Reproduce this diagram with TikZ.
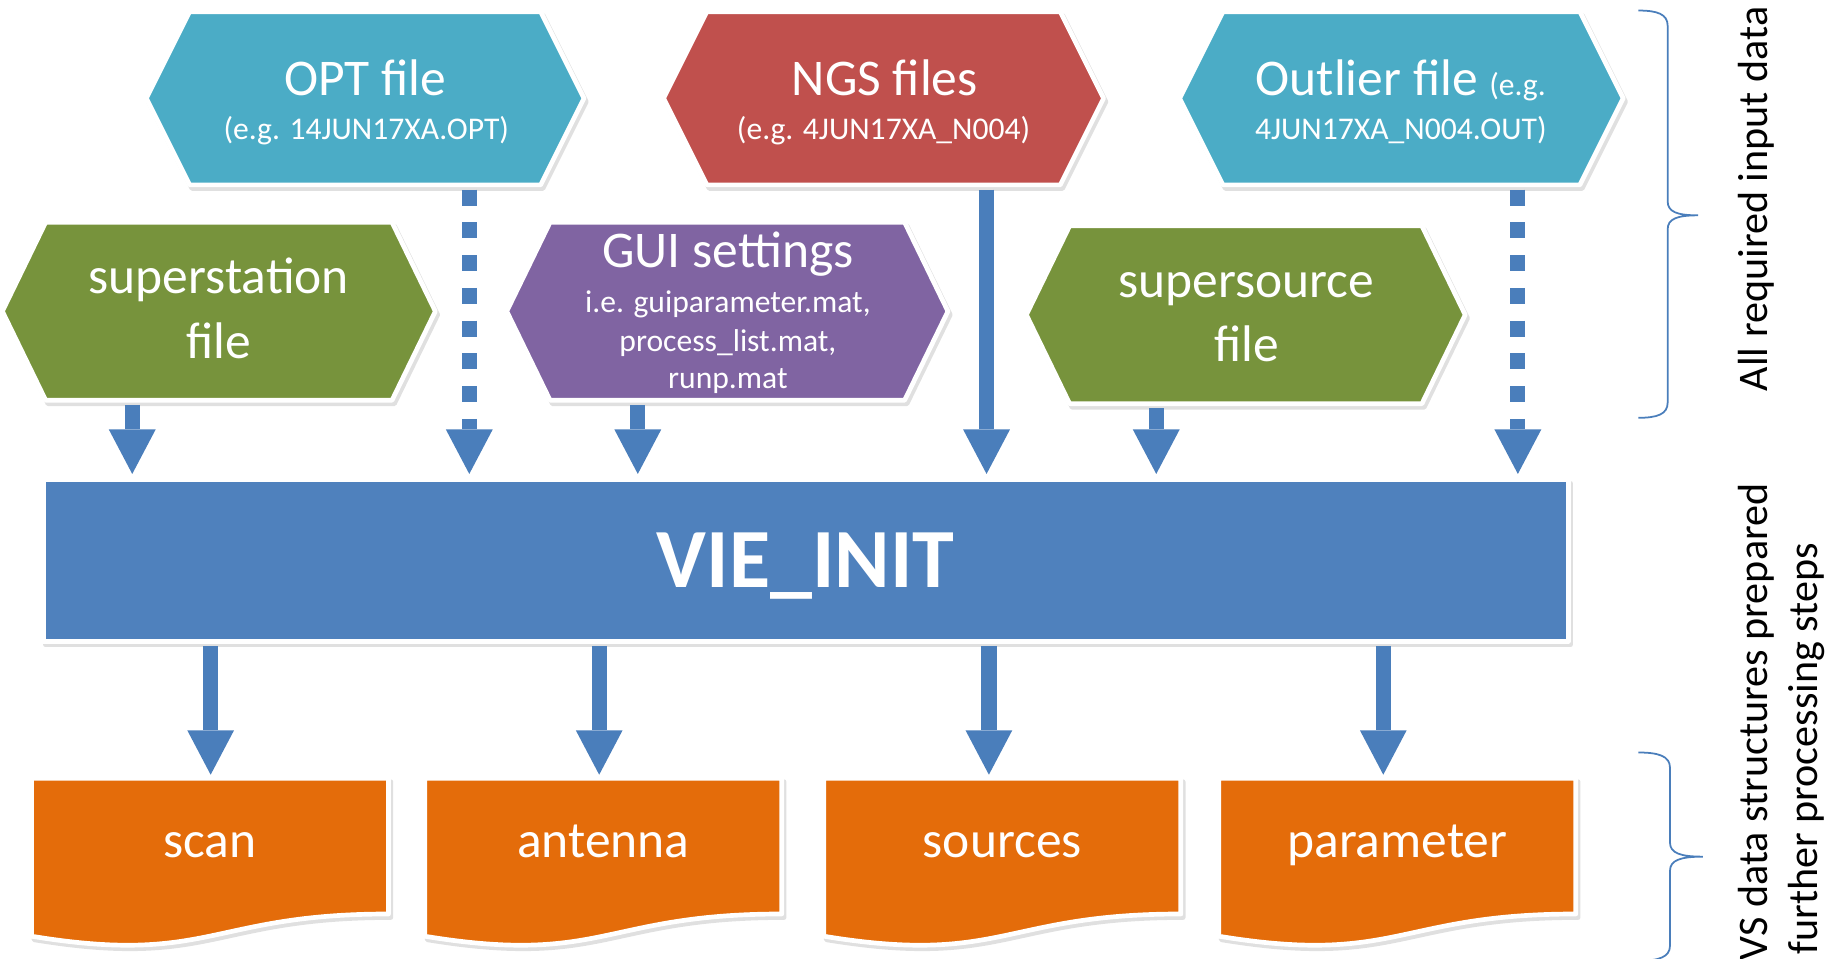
\documentclass[tikz,border=0pt]{standalone}
\usepackage{fontspec}
\setmainfont{Carlito}
\usetikzlibrary{arrows.meta,calc}
\pgfdeclarelayer{bg}
\pgfsetlayers{bg,main}
\definecolor{cyanf}{HTML}{4BACC6}
\definecolor{redf}{HTML}{C0504D}
\definecolor{greenf}{HTML}{77933C}
\definecolor{purplef}{HTML}{8064A2}
\definecolor{bluef}{HTML}{4F81BD}
\definecolor{arrc}{HTML}{4A7EBB}
\definecolor{orangef}{HTML}{E46C0A}
\tikzset{
  shadowst/.style={fill=black!12, draw=black!12, line width=4pt, line join=round, transform canvas={shift={(2pt,-3pt)}}},
  shapest/.style={draw=white, line width=4pt, line join=round},
  hexn/.style={rectangle, inner sep=0pt, outer sep=0pt},
  ttl/.style={anchor=base, inner sep=0pt, text=white, font=\fontsize{44}{53}\selectfont},
  sub/.style={anchor=base, inner sep=0pt, text=white, font=\fontsize{27}{32}\selectfont},
  vie/.style={rectangle, inner sep=0pt, outer sep=0pt, minimum width=1303pt, minimum height=138pt, text=white, font=\bfseries\fontsize{72}{86}\selectfont, text height=46pt, text depth=0pt},
  doc/.style={rectangle, inner sep=0pt, outer sep=0pt, minimum width=305pt, minimum height=116pt, text=white, font=\fontsize{44}{53}\selectfont, text height=20pt, text depth=0pt},
  side/.style={rotate=90, inner sep=0pt, text=black, font=\fontsize{36}{43}\selectfont},
  brace/.style={draw=arrc, line width=1.5pt},
  arr/.style={draw=arrc, line width=13pt, -{Triangle[length=38pt,width=40pt,line width=0pt]}},
  dasharr/.style={arr, dash pattern=on 13.7pt off 14.3pt},
}
\newcommand\hexshape[3]{%
  \filldraw[shadowst] (#1.north west) -- (#1.north east) -- ([xshift=#2]#1.east) -- (#1.south east) -- (#1.south west) -- ([xshift=-#2]#1.west) -- cycle;
  \filldraw[shapest, fill=#3] (#1.north west) -- (#1.north east) -- ([xshift=#2]#1.east) -- (#1.south east) -- (#1.south west) -- ([xshift=-#2]#1.west) -- cycle;}
\newcommand\docshape[2]{%
  \filldraw[shadowst] (#1.north west) -- (#1.north east) -- (#1.south east) .. controls (#1.south) and ([yshift=-44pt]#1.south) .. ([yshift=-19pt]#1.south west) -- cycle;
  \filldraw[shapest, fill=#2] (#1.north west) -- (#1.north east) -- (#1.south east) .. controls (#1.south) and ([yshift=-44pt]#1.south) .. ([yshift=-19pt]#1.south west) -- cycle;}
\newcommand\boxshape[2]{%
  \filldraw[shadowst] (#1.north west) rectangle (#1.south east);
  \filldraw[shapest, fill=#2] (#1.north west) rectangle (#1.south east);}
\begin{document}
\begin{tikzpicture}[x=1pt,y=-1pt]
\useasboundingbox (0,0) rectangle (1568,819);
% shape holders
\node[hexn, minimum width=300pt, minimum height=148pt] (opt) at (312,84) {};
\node[hexn, minimum width=302pt, minimum height=148pt] (ngs) at (755,84) {};
\node[hexn, minimum width=305pt, minimum height=148pt] (outl) at (1197.5,84) {};
\node[hexn, minimum width=296pt, minimum height=152pt] (sst) at (187,266) {};
\node[hexn, minimum width=303pt, minimum height=152pt] (gui) at (621.5,266) {};
\node[hexn, minimum width=301pt, minimum height=152pt] (ssrc) at (1064.5,269) {};
\node[vie] (vie) at (688.5,479) {VIE\_INIT};
\node[doc] (scan) at (179.5,723) {scan};
\node[doc] (ant) at (515.5,723) {antenna};
\node[doc] (src) at (856.5,723) {sources};
\node[doc] (par) at (1194,723) {parameter};
\begin{pgfonlayer}{bg}
  \hexshape{opt}{37pt}{cyanf}
  \hexshape{ngs}{37pt}{redf}
  \hexshape{outl}{37pt}{cyanf}
  \hexshape{sst}{37pt}{greenf}
  \hexshape{gui}{37pt}{purplef}
  \hexshape{ssrc}{37pt}{greenf}
  \boxshape{vie}{bluef}
  \docshape{scan}{orangef}
  \docshape{ant}{orangef}
  \docshape{src}{orangef}
  \docshape{par}{orangef}
\end{pgfonlayer}
% texts
\node[ttl] (opt-a) at (312,82) {OPT file};
\node[sub] (opt-b) at (313,119.5) {(e.g. 14JUN17XA.OPT)};
\node[ttl] (ngs-a) at (756,82) {NGS files};
\node[sub] (ngs-b) at (755,119.5) {(e.g. 4JUN17XA\_N004)};
\node[ttl] (outl-a) at (1197,82) {Outlier file {\fontsize{27}{32}\selectfont (e.g.}};
\node[sub] (outl-b) at (1197,119.5) {4JUN17XA\_N004.OUT)};
\node[ttl] (sst-a) at (187,251) {superstation};
\node[ttl] (sst-b) at (187,306) {file};
\node[ttl] (gui-a) at (622,229) {GUI settings};
\node[sub] (gui-b) at (622,267) {i.e. guiparameter.mat,};
\node[sub] (gui-c) at (622,300) {process\_list.mat,};
\node[sub] (gui-d) at (622,332) {runp.mat};
\node[ttl] (ssrc-a) at (1065,254) {supersource};
\node[ttl] (ssrc-b) at (1065,309) {file};
% arrow positions
\coordinate (ax1) at (113,0);
\coordinate (ax2) at (401,0);
\coordinate (ax3) at (545,0);
\coordinate (ax4) at (843,0);
\coordinate (ax5) at (988,0);
\coordinate (ax6) at (1297,0);
\coordinate (bx1) at (180,0);
\coordinate (bx2) at (512,0);
\coordinate (bx3) at (845,0);
\coordinate (bx4) at (1182,0);
% input arrows
\draw[arr] ($(sst.south -| ax1)+(0,4)$) -- ($(vie.north -| ax1)+(0,-5)$);
\draw[dasharr] ($(opt.south -| ax2)+(0,4)$) -- ($(vie.north -| ax2)+(0,-5)$);
\draw[arr] ($(gui.south -| ax3)+(0,4)$) -- ($(vie.north -| ax3)+(0,-5)$);
\draw[arr] ($(ngs.south -| ax4)+(0,4)$) -- ($(vie.north -| ax4)+(0,-5)$);
\draw[arr] ($(ssrc.south -| ax5)+(0,4)$) -- ($(vie.north -| ax5)+(0,-5)$);
\draw[dasharr] ($(outl.south -| ax6)+(0,4)$) -- ($(vie.north -| ax6)+(0,-5)$);
% output arrows
\draw[arr] ($(vie.south -| bx1)+(0,4)$) -- ($(scan.north -| bx1)+(0,-3)$);
\draw[arr] ($(vie.south -| bx2)+(0,4)$) -- ($(ant.north -| bx2)+(0,-3)$);
\draw[arr] ($(vie.south -| bx3)+(0,4)$) -- ($(src.north -| bx3)+(0,-3)$);
\draw[arr] ($(vie.south -| bx4)+(0,4)$) -- ($(par.north -| bx4)+(0,-3)$);
% braces
\draw[brace] (1400,9) .. controls (1416,9) and (1425,12) .. (1425,22) -- (1425,172) .. controls (1425,181) and (1433,184) .. (1451,184) .. controls (1433,184) and (1425,187) .. (1425,196) -- (1425,344) .. controls (1425,354) and (1416,357) .. (1400,357);
\draw[brace] (1400,643) .. controls (1417,643) and (1427,646) .. (1427,656) -- (1427,720) .. controls (1427,729) and (1436,732) .. (1455,732) .. controls (1436,732) and (1427,735) .. (1427,744) -- (1427,808) .. controls (1427,818) and (1417,821) .. (1400,821);
% side labels
\node[side, anchor=base] (lab1) at (1510,170) {All required input data};
\node[side, anchor=base east] (lab2) at (1510,413) {VS data structures prepared};
\node[side, anchor=base east] (lab3) at (1553,464) {further processing steps};
\end{tikzpicture}
\end{document}
